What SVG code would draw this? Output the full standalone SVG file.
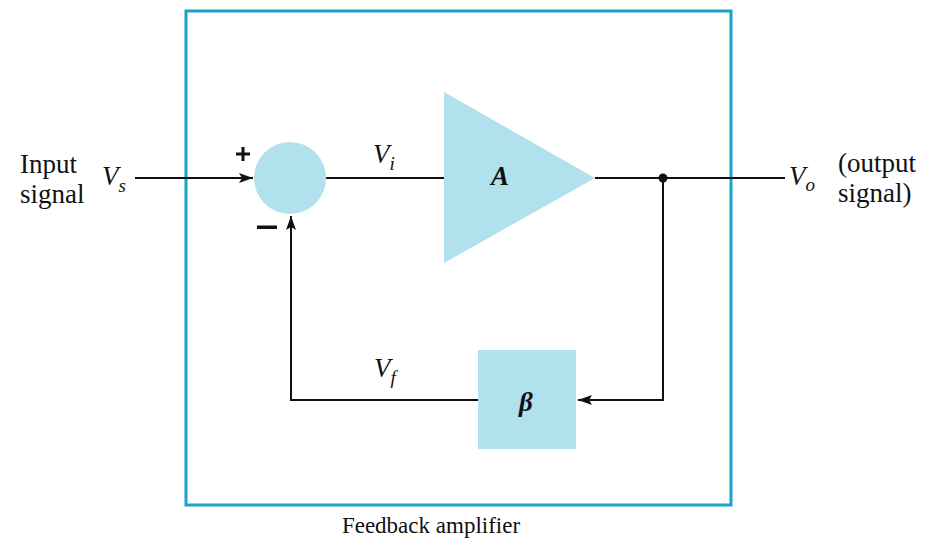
<svg xmlns="http://www.w3.org/2000/svg" width="936" height="544" viewBox="0 0 936 544">
<style>
.t{font-family:"Liberation Serif","Times New Roman",serif;font-size:27px;fill:#111}
.i{font-style:italic}
.sub{font-size:19px}
.w{stroke:#111;stroke-width:2;fill:none}
.blk{fill:#b2e1ee}
</style>
<defs>
<marker id="ah" markerWidth="14" markerHeight="10" refX="14" refY="5" orient="auto" markerUnits="userSpaceOnUse">
<path d="M0,0 L14,5 L0,10 L3,5 Z" fill="#111"/>
</marker>
</defs>
<rect width="936" height="544" fill="#fff"/>
<g id="frame"><rect x="186" y="11" width="545" height="494" fill="none" stroke="#1aa3c8" stroke-width="3"/></g>
<g id="connectors">
<line class="w" x1="135" y1="178" x2="253" y2="178" marker-end="url(#ah)"/>
<line class="w" x1="326" y1="178" x2="444" y2="178"/>
<line class="w" x1="595" y1="178" x2="785" y2="178"/>
<polyline class="w" points="663,178 663,400 578,400" marker-end="url(#ah)"/>
<polyline class="w" points="478,400 291,400 291,216" marker-end="url(#ah)"/>
<circle cx="663" cy="178" r="4.5" fill="#111"/>
</g>
<g id="summer"><circle class="blk" cx="290" cy="178" r="36"/>
<rect x="236" y="152.5" width="14" height="3" fill="#111"/>
<rect x="241.5" y="147" width="3" height="14" fill="#111"/>
<rect x="257" y="225.5" width="20" height="3.5" fill="#111"/></g>
<g id="amp"><polygon class="blk" points="444,92 595,178 444,263"/>
<text class="t i" x="491" y="185" font-weight="bold">A</text></g>
<g id="beta"><rect class="blk" x="478" y="350" width="98" height="99"/>
<text class="t i" x="526" y="411" text-anchor="middle" font-weight="bold">β</text></g>
<g id="labels">
<text class="t" x="20" y="173">Input</text>
<text class="t" x="20" y="203">signal</text>
<text class="t i" x="102" y="185">V<tspan class="sub" dy="7">s</tspan></text>
<text class="t i" x="373" y="163">V<tspan class="sub" dy="7">i</tspan></text>
<text class="t i" x="374" y="377">V<tspan class="sub" dy="7">f</tspan></text>
<text class="t i" x="789" y="185">V<tspan class="sub" dy="6">o</tspan></text>
<text class="t" x="838" y="172">(output</text>
<text class="t" x="838" y="202">signal)</text>
<text class="t" x="431" y="533" text-anchor="middle" style="font-size:23px">Feedback amplifier</text>
</g>
</svg>
